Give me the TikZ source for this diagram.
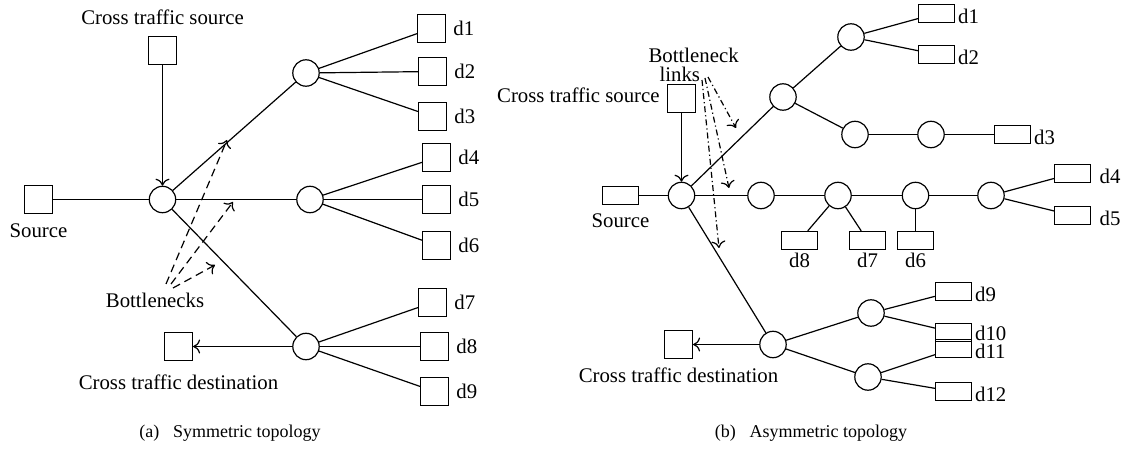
\documentclass[tikz,border=0pt]{standalone}
\usepackage{fontspec}
\setmainfont{Liberation Serif}
\usetikzlibrary{arrows.meta}
\begin{document}
\begin{tikzpicture}[
                    x=0.5pt, y=-0.5pt,
                    semithick,
                    >={To[length=3.5pt, width=7pt]},
                    font=\fontsize{10.4}{12}\selectfont,
                    host/.style={draw, rectangle, minimum width=14pt, minimum height=14pt, inner sep=0pt},
                    hostw/.style={draw, rectangle, minimum width=18pt, minimum height=9pt, inner sep=0pt},
                    router/.style={draw, circle, minimum size=13.2pt, inner sep=0pt},
                    lbr/.style={label={[anchor=base west, inner xsep=1.2pt]south east:#1}},
                    lbrw/.style={label={[anchor=base west, inner xsep=4pt]south east:#1}},
                    bneck/.style={->, dash pattern=on 4pt off 2.5pt},
                    blink/.style={->, dash pattern=on 3pt off 1.5pt on 0.6pt off 1.5pt},
                    capt/.style={font=\fontsize{9}{11}\selectfont}
                ]
                \useasboundingbox (0,0) rectangle (1121,449);

                % (a) symmetric
                \node (SA)   [host]   at (38.5,199.5)  {};
                \node (SAl)  [below of=SA,  node distance=15.5pt] {Source};
                \node (CSA)  [host]   at (162.5,50.5)  {};
                \node (CSAl) [above of=CSA, node distance=16.5pt] {Cross traffic source};
                \node (HA)   [router] at (162.5,199.5) {};
                \node (RA1)  [router] at (306,73)  {};
                \node (RA2)  [router] at (310,199.5) {};
                \node (RA3)  [router] at (306,346.5) {};
                \node (DA1)  [host, label=right:d1] at (431.5,28.5)  {};
                \node (DA2)  [host, label=right:d2] at (432.5,71.5)  {};
                \node (DA3)  [host, label=right:d3] at (432.5,116.5) {};
                \node (DA4)  [host, label=right:d4] at (436.5,157.5) {};
                \node (DA5)  [host, label=right:d5] at (436.5,199.5) {};
                \node (DA6)  [host, label=right:d6] at (436.5,245.5) {};
                \node (DA7)  [host, label=right:d7] at (432.5,302.5) {};
                \node (DA8)  [host, label=right:d8] at (434.5,346.5) {};
                \node (DA9)  [host, label=right:d9] at (434.5,391.5) {};
                \node (CDA)  [host]   at (178.5,346.5) {};
                \node (CDAl) [below of=CDA, node distance=18pt] {Cross traffic destination};
                \node (BNA)  at (155,300) {Bottlenecks};
                \coordinate (BA1)  at (166,284);
                \coordinate (BA2)  at (171,284);
                \coordinate (BA3)  at (173,288);
                \coordinate (BA1e) at (227,140);
                \coordinate (BA2e) at (233,202);
                \coordinate (BA3e) at (215,265);
                \node (CapA) [capt] at (230,433) {(a)\hspace{7pt}Symmetric topology};

                % (b) asymmetric
                \node (SB)   [hostw]  at (620.5,195.5) {};
                \node (SBl)  [below of=SB,  node distance=12.5pt] {Source};
                \node (CSB)  [host]   at (681.5,98.5)  {};
                \node (CSBl) [anchor=east, yshift=1.5pt] at (CSB.west) {Cross traffic source};
                \node (BNB)  [anchor=north west, inner sep=0pt, align=left,
                              font=\fontsize{10.4}{9.5}\selectfont] at (648,47)
                             {Bottleneck\\\hspace{5.5pt}links};
                \node (HB)   [router] at (681.5,195.5) {};
                \node (RB1)  [router] at (761,195.5) {};
                \node (RB2)  [router] at (838,195.5) {};
                \node (RB3)  [router] at (915.5,195.5) {};
                \node (RB4)  [router] at (991,195.5) {};
                \node (RT1)  [router] at (783,97)  {};
                \node (RT2)  [router] at (851,37)  {};
                \node (RT3)  [router] at (855,134.5) {};
                \node (RT4)  [router] at (931,134.5) {};
                \node (HB2)  [router] at (773,344.5) {};
                \node (RL1)  [router] at (871,313) {};
                \node (RL2)  [router] at (868,377) {};
                \node (DB1)  [hostw, lbr=d1]  at (936.5,13.5)  {};
                \node (DB2)  [hostw, lbr=d2]  at (936.5,54.5)  {};
                \node (DB3)  [hostw, lbr=d3]  at (1012.5,134.5) {};
                \node (DB4)  [hostw, lbrw=d4] at (1072.5,173.5) {};
                \node (DB5)  [hostw, lbrw=d5] at (1072.5,215.5) {};
                \node (DB6)  [hostw, label={[label distance=-2pt]below:d6}] at (915.5,240.5) {};
                \node (DB7)  [hostw, label={[label distance=-2pt]below:d7}] at (867.5,240.5) {};
                \node (DB8)  [hostw, label={[label distance=-2pt]below:d8}] at (799.5,240.5) {};
                \node (DB9)  [hostw, lbr=d9]  at (953.5,291.5) {};
                \node (DB10) [hostw, label={[anchor=base west, inner xsep=1.2pt, yshift=1pt]south east:d10}] at (953.5,332.5) {};
                \node (DB11) [hostw, lbr=d11] at (953.5,348.5) {};
                \node (DB12) [hostw, lbr=d12] at (953.5,391.5) {};
                \node (CDB)  [host]   at (678.5,344.5) {};
                \node (CDBl) [below of=CDB, node distance=15.5pt] {Cross traffic destination};
                \coordinate (BB1)  at (708,77);
                \coordinate (BB2)  at (705,78);
                \coordinate (BB3)  at (702,80);
                \coordinate (BB1e) at (736,128);
                \coordinate (BB2e) at (729,188);
                \coordinate (BB3e) at (719,248);
                \node (CapB) [capt] at (811,433) {(b)\hspace{7pt}Asymmetric topology};

                \path
                (SA) edge (HA)
                (CSA) edge[->] (HA)
                (HA) edge (RA1)
                (HA) edge (RA2)
                (HA) edge (RA3)
                (RA1) edge (DA1)
                (RA1) edge (DA2)
                (RA1) edge (DA3)
                (RA2) edge (DA4)
                (RA2) edge (DA5)
                (RA2) edge (DA6)
                (RA3) edge (DA7)
                (RA3) edge (DA8)
                (RA3) edge (DA9)
                (RA3) edge[->] (CDA)
                (BA1) edge[bneck] (BA1e)
                (BA2) edge[bneck] (BA2e)
                (BA3) edge[bneck] (BA3e)
                ;

                \path
                (SB) edge (HB)
                (CSB) edge[->] (HB)
                (HB) edge (RB1)
                (RB1) edge (RB2)
                (RB2) edge (RB3)
                (RB3) edge (RB4)
                (RB2) edge (DB8)
                (RB2) edge (DB7)
                (RB3) edge (DB6)
                (RB4) edge (DB4)
                (RB4) edge (DB5)
                (HB) edge (RT1)
                (RT1) edge (RT2)
                (RT1) edge (RT3)
                (RT2) edge (DB1)
                (RT2) edge (DB2)
                (RT3) edge (RT4)
                (RT4) edge (DB3)
                (HB) edge (HB2)
                (HB2) edge[->] (CDB)
                (HB2) edge (RL1)
                (HB2) edge (RL2)
                (RL1) edge (DB9)
                (RL1) edge (DB10)
                (RL2) edge (DB11)
                (RL2) edge (DB12)
                (BB1) edge[blink] (BB1e)
                (BB2) edge[blink] (BB2e)
                (BB3) edge[blink] (BB3e)
                ;
            \end{tikzpicture}
\end{document}
